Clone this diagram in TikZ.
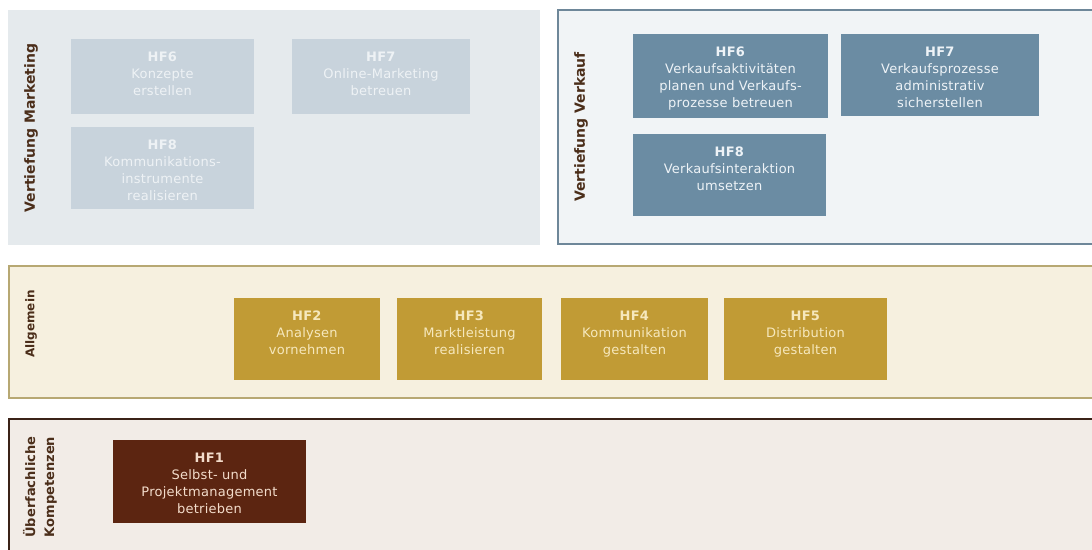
\documentclass[tikz,border=0pt]{standalone}
\usepackage{fontspec}
\setmainfont{DejaVu Sans}
\newfontfamily\boxfont{DejaVu Sans}[LetterSpace=2]
\newfontfamily\sidefont{DejaVu Sans}
\definecolor{mkback}{HTML}{E5EAED}
\definecolor{mkbox}{HTML}{C8D3DC}
\definecolor{mktext}{HTML}{EEF2F5}
\definecolor{vkback}{HTML}{F1F4F6}
\definecolor{vkline}{HTML}{6E8799}
\definecolor{vkbox}{HTML}{6B8CA3}
\definecolor{vktext}{HTML}{EEF3F7}
\definecolor{alback}{HTML}{F6F0DF}
\definecolor{alline}{HTML}{B7A873}
\definecolor{albox}{HTML}{C19B35}
\definecolor{altext}{HTML}{F6E8BD}
\definecolor{ueback}{HTML}{F2ECE7}
\definecolor{ueline}{HTML}{3B2318}
\definecolor{uebox}{HTML}{5C2511}
\definecolor{uetext}{HTML}{F3DCCB}
\definecolor{sidetext}{HTML}{4B2E1A}
\newcommand\hftext[4]{\parbox[c][#2pt][t]{#1pt}{\centering\vspace*{13pt}\textbf{#3}\\#4}}

\begin{document}
\begin{tikzpicture}[x=1pt, y=-1pt, line width=2pt]
        \tikzstyle{hf}=[inner sep=0pt, anchor=north west, font=\boxfont\fontsize{13}{17}\selectfont]
        \tikzstyle{mk}=[hf, fill=mkbox, text=mktext]
        \tikzstyle{vk}=[hf, fill=vkbox, text=vktext]
        \tikzstyle{al}=[hf, fill=albox, text=altext]
        \tikzstyle{ue}=[hf, fill=uebox, text=uetext]
        \tikzstyle{sidelabel}=[rotate=90, align=center, text=sidetext, font=\sidefont\bfseries\fontsize{14}{19}\selectfont]
        \useasboundingbox (0,0) rectangle (1092,549);
        \clip (0,0) rectangle (1092,549);
        \fill[white] (0,0) rectangle (1092,549);
        \fill[mkback] (8,10) rectangle (540,245);
        \draw[vkline, fill=vkback] (558,10) rectangle (1100,244);
        \draw[alline, fill=alback] (9,266) rectangle (1100,398);
        \draw[ueline, fill=ueback] (9,419) rectangle (1100,560);
        \node[mk] (mk6) at (70,38) {\hftext{183}{75}{HF6}{Konzepte\\erstellen}};
        \node[mk] (mk7) at (291,38) {\hftext{178}{75}{HF7}{Online-Marketing\\betreuen}};
        \node[mk] (mk8) at (70,126) {\hftext{183}{82}{HF8}{Kommunikations-\\instrumente\\realisieren}};
        \node[vk] (vk6) at (632,33) {\hftext{195}{84}{HF6}{Verkaufsaktivitäten\\planen und Verkaufs-\\prozesse betreuen}};
        \node[vk] (vk7) at (840,33) {\hftext{198}{82}{HF7}{Verkaufsprozesse\\administrativ\\sicherstellen}};
        \node[vk] (vk8) at (632,133) {\hftext{193}{82}{HF8}{Verkaufsinteraktion\\umsetzen}};
        \node[al] (al2) at (233,297) {\hftext{146}{82}{HF2}{Analysen\\vornehmen}};
        \node[al] (al3) at (396,297) {\hftext{145}{82}{HF3}{Marktleistung\\realisieren}};
        \node[al] (al4) at (560,297) {\hftext{147}{82}{HF4}{Kommunikation\\gestalten}};
        \node[al] (al5) at (723,297) {\hftext{163}{82}{HF5}{Distribution\\gestalten}};
        \node[ue] (ue1) at (112,439) {\hftext{193}{83}{HF1}{Selbst- und\\Projektmanagement\\betrieben}};
        \node[sidelabel] (lmk) at (31,128) {Vertiefung Marketing};
        \node[sidelabel] (lvk) at (581,127) {Vertiefung Verkauf};
        \node[sidelabel, font=\sidefont\bfseries\fontsize{12}{14}\selectfont] (lal) at (31,324) {Allgemein};
        \node[sidelabel, font=\sidefont\bfseries\fontsize{13}{19}\selectfont] (lue) at (40,487) {Überfachliche\\Kompetenzen};
    \end{tikzpicture}
\end{document}
